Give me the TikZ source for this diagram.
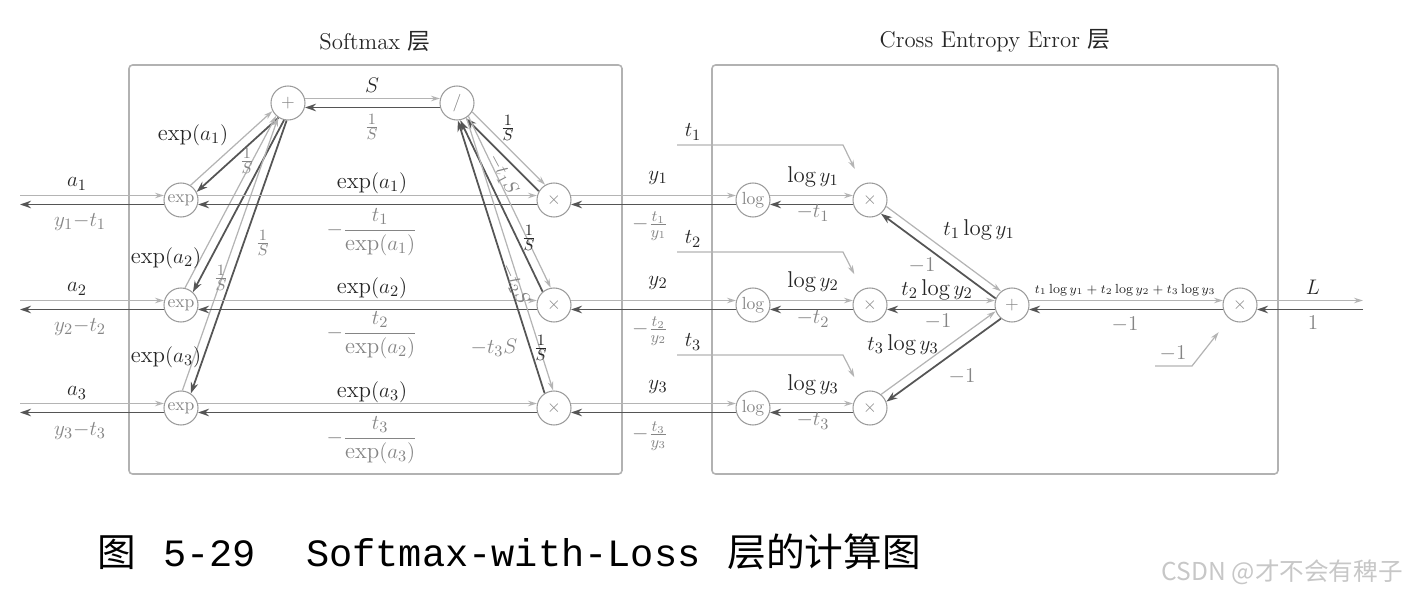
\documentclass[tikz,border=0pt]{standalone}
\usepackage{amsmath}
\usepackage{fontspec}
\newfontfamily\cjk{Noto Sans CJK SC}
\newfontfamily\capmono{Liberation Mono}
\usepackage{tikz}
\usetikzlibrary{arrows.meta,calc}
\definecolor{CGFwd}{HTML}{B4B4B4}
\definecolor{CGBwd}{HTML}{555555}
\definecolor{CGNode}{HTML}{9C9C9C}
\definecolor{CGInk}{HTML}{262626}
\definecolor{CGGray}{HTML}{858585}
\definecolor{CGFrame}{HTML}{B2B2B2}
\newcommand{\cggap}{0.9mm}
\newcommand{\cgr}{3.4mm}
% forward line above, backward line below
\newcommand{\dualedge}[4]{%
  \draw[cgfwd, shorten <=#3, shorten >=#4]
    ($(#1)!\cggap!90:(#2)$) -- ($(#2)!\cggap!-90:(#1)$);
  \draw[cgbwd, shorten <=#4, shorten >=#3]
    ($(#2)!\cggap!90:(#1)$) -- ($(#1)!\cggap!-90:(#2)$);
}
\tikzset{
  cgop/.style={circle, draw=CGNode, line width=0.6pt, fill=white,
    minimum size=6.8mm, inner sep=0pt, text=CGGray,
    font=\fontsize{10}{12}\selectfont},
  cgframe/.style={draw=CGFrame, line width=0.9pt, rounded corners=2pt},
  cgtitle/.style={text=CGInk, inner sep=1pt},
  cgfwd/.style={-{Stealth[length=1.8mm,width=1.1mm]}, draw=CGFwd,
    line width=0.7pt},
  cgbwd/.style={-{Stealth[length=2.2mm,width=1.5mm]}, draw=CGBwd,
    line width=1pt},
  cgflab/.style={text=CGInk, inner sep=1pt},
  cgblab/.style={text=CGGray, inner sep=1pt},
  cgslope/.style={cgblab, inner sep=0pt, font=\fontsize{11}{12}\selectfont}
}

\begin{document}
\begin{tikzpicture}[x=0.2mm, y=-0.2mm, font=\fontsize{13}{15}\selectfont]
  \useasboundingbox (0,0) rectangle (1404,597);

  \draw[cgframe] (129,65) rectangle (622,474);
  \draw[cgframe] (712,65) rectangle (1278,474);
  \node[cgtitle] (smtitle) at (375,41) {Softmax {\cjk 层}};
  \node[cgtitle] (cetitle) at (995,41) {Cross Entropy Error {\cjk 层}};

  \node[cgop] (exp1) at (181,200) {exp};
  \node[cgop] (exp2) at (181,305) {exp};
  \node[cgop] (exp3) at (181,408) {exp};
  \node[cgop] (plus) at (288,103) {$+$};
  \node[cgop] (div) at (457,103) {$/$};
  \node[cgop] (mA1) at (554,200) {$\times$};
  \node[cgop] (mA2) at (554,305) {$\times$};
  \node[cgop] (mA3) at (554,408) {$\times$};
  \node[cgop] (log1) at (753,200) {log};
  \node[cgop] (log2) at (753,305) {log};
  \node[cgop] (log3) at (753,408) {log};
  \node[cgop] (mB1) at (870,200) {$\times$};
  \node[cgop] (mB2) at (870,305) {$\times$};
  \node[cgop] (mB3) at (870,408) {$\times$};
  \node[cgop] (pB) at (1012,305) {$+$};
  \node[cgop] (mC) at (1240,305) {$\times$};

  \coordinate (in1) at (20,200);
  \coordinate (in2) at (20,305);
  \coordinate (in3) at (20,408);
  \coordinate (out) at (1363,305);
  \coordinate (t1a) at (677,145);
  \coordinate (t1b) at (843,145);
  \coordinate (t2a) at (677,252);
  \coordinate (t2b) at (843,252);
  \coordinate (t3a) at (677,355);
  \coordinate (t3b) at (843,355);
  \coordinate (m1a) at (1155,366);
  \coordinate (m1b) at (1192,366);

  \dualedge{in1}{exp1}{0pt}{\cgr}
  \dualedge{in2}{exp2}{0pt}{\cgr}
  \dualedge{in3}{exp3}{0pt}{\cgr}
  \dualedge{exp1}{plus}{\cgr}{\cgr}
  \dualedge{exp2}{plus}{\cgr}{\cgr}
  \dualedge{exp3}{plus}{\cgr}{\cgr}
  \dualedge{exp1}{mA1}{\cgr}{\cgr}
  \dualedge{exp2}{mA2}{\cgr}{\cgr}
  \dualedge{exp3}{mA3}{\cgr}{\cgr}
  \dualedge{plus}{div}{\cgr}{\cgr}
  \dualedge{div}{mA1}{\cgr}{\cgr}
  \dualedge{div}{mA2}{\cgr}{\cgr}
  \dualedge{div}{mA3}{\cgr}{\cgr}
  \dualedge{mA1}{log1}{\cgr}{\cgr}
  \dualedge{mA2}{log2}{\cgr}{\cgr}
  \dualedge{mA3}{log3}{\cgr}{\cgr}
  \dualedge{log1}{mB1}{\cgr}{\cgr}
  \dualedge{log2}{mB2}{\cgr}{\cgr}
  \dualedge{log3}{mB3}{\cgr}{\cgr}
  \dualedge{mB1}{pB}{\cgr}{\cgr}
  \dualedge{mB2}{pB}{\cgr}{\cgr}
  \dualedge{mB3}{pB}{\cgr}{\cgr}
  \dualedge{pB}{mC}{\cgr}{\cgr}
  \dualedge{mC}{out}{\cgr}{0pt}
  \draw[cgfwd, shorten >=\cgr] (t1a) -- (t1b) -- (mB1);
  \draw[cgfwd, shorten >=\cgr] (t2a) -- (t2b) -- (mB2);
  \draw[cgfwd, shorten >=\cgr] (t3a) -- (t3b) -- (mB3);
  \draw[cgfwd, shorten >=\cgr] (m1a) -- (m1b) -- (mC);

  % input side
  \node[cgflab] (la1) at (77,184) {$a_1$};
  \node[cgblab] (lb1) at (80,222) {$y_1{-}t_1$};
  \node[cgflab] (la2) at (77,289) {$a_2$};
  \node[cgblab] (lb2) at (80,327) {$y_2{-}t_2$};
  \node[cgflab] (la3) at (77,393) {$a_3$};
  \node[cgblab] (lb3) at (80,431) {$y_3{-}t_3$};

  % exp to sum
  \node[cgflab] (lsum1) at (193,135) {$\exp(a_1)$};
  \node[cgblab] (linv1) at (247,161) {$\frac{1}{S}$};
  \node[cgflab] (lsum2) at (166,258) {$\exp(a_2)$};
  \node[cgblab] (linv2) at (221,278) {$\frac{1}{S}$};
  \node[cgflab] (lsum3) at (166,357) {$\exp(a_3)$};
  \node[cgblab] (linv3) at (263,243) {$\frac{1}{S}$};

  % exp to product
  \node[cgflab] (le1) at (372,183) {$\exp(a_1)$};
  \node[cgblab] (lg1) at (372,232) {$-\dfrac{t_1}{\exp(a_1)}$};
  \node[cgflab] (le2) at (372,288) {$\exp(a_2)$};
  \node[cgblab] (lg2) at (372,335) {$-\dfrac{t_2}{\exp(a_2)}$};
  \node[cgflab] (le3) at (372,392) {$\exp(a_3)$};
  \node[cgblab] (lg3) at (372,440) {$-\dfrac{t_3}{\exp(a_3)}$};

  % sum to division
  \node[cgflab] (lS) at (372,85) {$S$};
  \node[cgblab] (lSb) at (372,127) {$\frac{1}{S}$};

  % division to products
  \node[cgflab] (ld1) at (508,128) {$\frac{1}{S}$};
  \node[cgslope, rotate=-62] (ltS1) at (503,174) {$-t_1S$};
  \node[cgflab] (ld2) at (529,238) {$\frac{1}{S}$};
  \node[cgslope, rotate=-65] (ltS2) at (515,284) {$-t_2S$};
  \node[cgblab] (ltS3) at (494,348) {$-t_3S$};
  \node[cgflab] (ld3) at (541,348) {$\frac{1}{S}$};

  % softmax output
  \node[cgflab] (ly1) at (658,178) {$y_1$};
  \node[cgblab] (lq1) at (650,226) {$-\frac{t_1}{y_1}$};
  \node[cgflab] (ly2) at (658,283) {$y_2$};
  \node[cgblab] (lq2) at (650,331) {$-\frac{t_2}{y_2}$};
  \node[cgflab] (ly3) at (658,387) {$y_3$};
  \node[cgblab] (lq3) at (650,436) {$-\frac{t_3}{y_3}$};
  \node[cgflab] (lt1) at (693,132) {$t_1$};
  \node[cgflab] (lt2) at (693,239) {$t_2$};
  \node[cgflab] (lt3) at (693,342) {$t_3$};

  % log to product
  \node[cgflab] (llog1) at (813,177) {$\log y_1$};
  \node[cgblab] (lmt1) at (813,213) {$-t_1$};
  \node[cgflab] (llog2) at (813,282) {$\log y_2$};
  \node[cgblab] (lmt2) at (813,319) {$-t_2$};
  \node[cgflab] (llog3) at (813,385) {$\log y_3$};
  \node[cgblab] (lmt3) at (813,421) {$-t_3$};

  % products to sum
  \node[cgflab] (lp1) at (979,230) {$t_1\log y_1$};
  \node[cgblab] (lm1) at (922,266) {$-1$};
  \node[cgflab] (lp2) at (937,290) {$t_2\log y_2$};
  \node[cgblab] (lm2) at (938,322) {$-1$};
  \node[cgflab] (lp3) at (903,345) {$t_3\log y_3$};
  \node[cgblab] (lm3) at (962,377) {$-1$};

  % sum to loss
  \node[cgflab, font=\fontsize{7.5}{9}\selectfont] (lsumall) at (1125,290)
    {$t_1\log y_1+t_2\log y_2+t_3\log y_3$};
  \node[cgblab] (lm4) at (1125,325) {$-1$};
  \node[cgblab] (lm5) at (1173,354) {$-1$};
  \node[cgflab] (lL) at (1313,287) {$L$};
  \node[cgblab] (lone) at (1313,323) {$1$};

  \node[anchor=west, inner sep=0pt, font=\fontsize{22}{26}\selectfont]
    (caption) at (97,552) {{\cjk 图}\hspace{0.7em}{\capmono 5-29}\hspace{1.3em}%
    {\capmono Softmax-with-Loss}\hspace{0.7em}{\cjk 层的计算图}};
  \node[anchor=east, inner sep=0pt, text=black!22,
    font=\cjk\fontsize{14}{16}\selectfont] (mark) at (1403,572)
    {CSDN @才不会有稗子};
\end{tikzpicture}
\end{document}
